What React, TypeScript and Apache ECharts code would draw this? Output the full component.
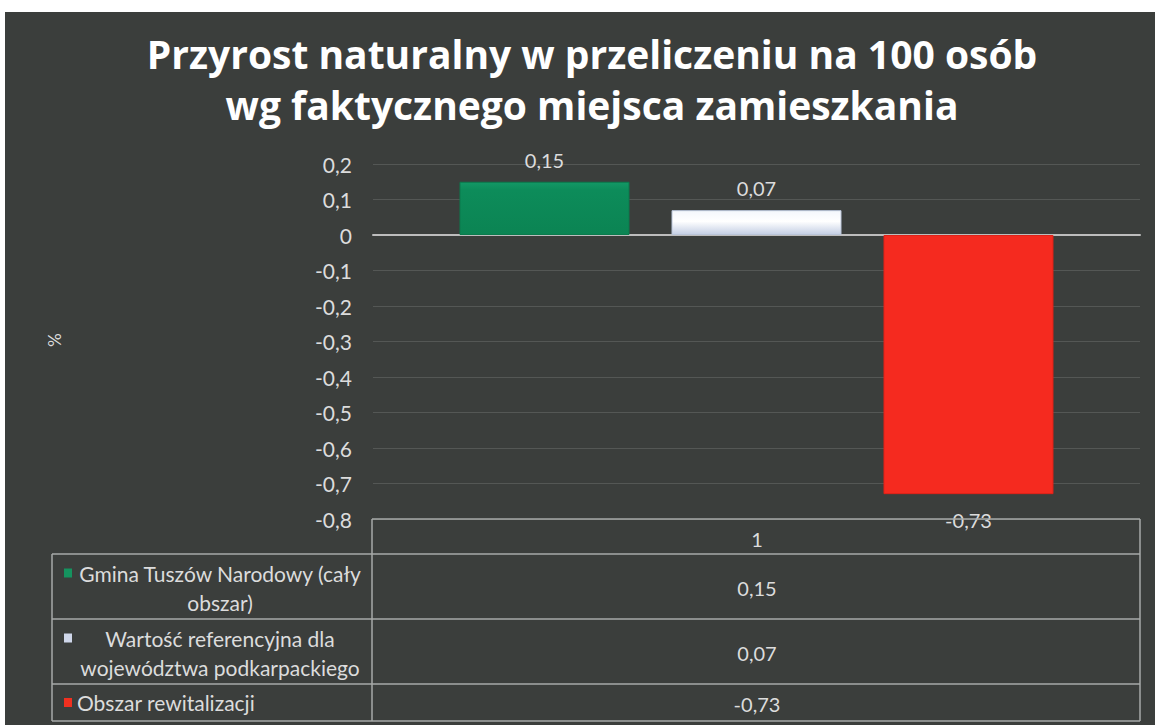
import React, { useEffect, useRef } from 'react';
import * as echarts from 'echarts';

const titleLines = ['Przyrost naturalny w przeliczeniu na 100 osób', 'wg faktycznego miejsca zamieszkania'];
const categories = ['1'];
const seriesNames = [
  'Gmina Tuszów Narodowy (cały obszar)',
  'Wartość referencyjna dla województwa podkarpackiego',
  'Obszar rewitalizacji',
];
const seriesLabelLines = [
  ['Gmina Tuszów Narodowy (cały', 'obszar)'],
  ['Wartość referencyjna dla', 'województwa podkarpackiego'],
  ['Obszar rewitalizacji'],
];
const seriesValues = [0.15, 0.07, -0.73];
const yMin = -0.8;
const yMax = 0.2;
const yStep = 0.1;
const axisName = '%';

const FONT = 'Lato, "Noto Sans", sans-serif';
const TITLE_FONT = '"Open Sans", Lato, sans-serif';
const TEXT = '#dcdcdc';
const LINE = '#a7aaa9';

const fmt = (v: number) => {
  const r = Math.round(v * 100) / 100;
  return String(r).replace('.', ',');
};

const barColors: any[] = [
  new echarts.graphic.LinearGradient(0, 0, 0, 1, [
    { offset: 0, color: '#139866' },
    { offset: 0.15, color: '#0d8c5a' },
    { offset: 1, color: '#0b8453' },
  ]),
  new echarts.graphic.LinearGradient(0, 0, 0, 1, [
    { offset: 0, color: '#f4f7fc' },
    { offset: 0.45, color: '#ffffff' },
    { offset: 1, color: '#c3cee4' },
  ]),
  '#f52a1f',
];
const keyColors = ['#15935f', '#cfd7ea', '#f03020'];

// table geometry (layout only)
const T = {
  left: 52,
  mid: 372,
  right: 1140,
  catTop: 519,
  rows: [554, 619, 684, 721],
  valueX: 757,
  labelX: 220,
  keyX: 64,
};

export default function App() {
  const ref = useRef<HTMLDivElement>(null);

  useEffect(() => {
    if (!ref.current) return;
    const chart = echarts.init(ref.current, undefined, { renderer: 'svg' });

    const graphics: any[] = [];
    const lineStyle = { stroke: LINE, lineWidth: 1.5 };
    graphics.push({ type: 'line', shape: { x1: T.mid, y1: T.catTop, x2: T.right, y2: T.catTop }, style: lineStyle, z: 10 });
    T.rows.forEach((y) => {
      graphics.push({ type: 'line', shape: { x1: T.left, y1: y, x2: T.right, y2: y }, style: lineStyle, z: 10 });
    });
    graphics.push({ type: 'line', shape: { x1: T.left, y1: T.rows[0], x2: T.left, y2: T.rows[3] }, style: lineStyle, z: 10 });
    graphics.push({ type: 'line', shape: { x1: T.mid, y1: T.catTop, x2: T.mid, y2: T.rows[3] }, style: lineStyle, z: 10 });
    graphics.push({ type: 'line', shape: { x1: T.right, y1: T.catTop, x2: T.right, y2: T.rows[3] }, style: lineStyle, z: 10 });
    graphics.push({
      type: 'text', x: T.valueX, y: (T.catTop + T.rows[0]) / 2 + 2, z: 10,
      style: { text: categories[0], fill: TEXT, font: `20px ${FONT}`, align: 'center', verticalAlign: 'middle' },
    });
    seriesNames.forEach((name, i) => {
      const top = T.rows[i];
      const bot = T.rows[i + 1];
      const cy = (top + bot) / 2;
      const lines = seriesLabelLines[i];
      const lh = 29;
      if (lines.length === 1) {
        graphics.push({ type: 'rect', shape: { x: T.keyX, y: cy - 4.5, width: 8, height: 9 }, style: { fill: keyColors[i] }, z: 10 });
        graphics.push({
          type: 'text', x: T.keyX + 13, y: cy, z: 10,
          style: { text: lines[0], fill: TEXT, font: `21px ${FONT}`, align: 'left', verticalAlign: 'middle' },
        });
      } else {
        const y0 = cy - lh / 2 + 1;
        graphics.push({ type: 'rect', shape: { x: T.keyX, y: y0 - 4.5, width: 8, height: 9 }, style: { fill: keyColors[i] }, z: 10 });
        lines.forEach((ln, k) => {
          graphics.push({
            type: 'text', x: T.labelX, y: y0 + k * lh, z: 10,
            style: { text: ln, fill: TEXT, font: `21px ${FONT}`, align: 'center', verticalAlign: 'middle' },
          });
        });
      }
      graphics.push({
        type: 'text', x: T.valueX, y: cy + 1, z: 10,
        style: { text: fmt(seriesValues[i]), fill: TEXT, font: `20px ${FONT}`, align: 'center', verticalAlign: 'middle' },
      });
    });
    graphics.push({
      type: 'text', x: 54, y: 340, rotation: -Math.PI / 2, z: 10,
      style: { text: axisName, fill: TEXT, font: `17px ${FONT}`, align: 'center', verticalAlign: 'middle' },
    });

    const series = seriesNames.map((name, i) => ({
      name,
      type: 'bar',
      barWidth: 170,
      barGap: '24.7%',
      data: [seriesValues[i]],
      itemStyle: {
        color: barColors[i],
        borderColor: i === 1 ? '#b9c4d8' : i === 0 ? '#0a7a4c' : '#e02218',
        borderWidth: 1,
      },
      label: {
        show: true,
        position: seriesValues[i] < 0 ? 'bottom' : 'top',
        distance: seriesValues[i] < 0 ? 16 : 12,
        formatter: (p: any) => fmt(p.value),
        color: TEXT,
        fontSize: 20,
        fontFamily: FONT,
      },
    }));

    chart.setOption({
      animation: false,
      backgroundColor: 'transparent',
      title: {
        text: titleLines.join('\n'),
        left: 587,
        top: 23,
        textAlign: 'center',
        textStyle: { color: '#ffffff', fontSize: 39, fontWeight: 'bold', fontFamily: TITLE_FONT, lineHeight: 51 },
      },
      grid: { left: 373, top: 164, width: 767, height: 355, containLabel: false },
      xAxis: {
        type: 'category',
        data: categories,
        axisLine: { show: true, onZero: true, lineStyle: { color: '#bdbdbd', width: 2 } },
        axisTick: { show: false },
        axisLabel: { show: false },
        splitLine: { show: false },
      },
      yAxis: {
        type: 'value',
        min: yMin,
        max: yMax,
        interval: yStep,
        axisLine: { show: false },
        axisTick: { show: false },
        axisLabel: {
          color: TEXT,
          fontSize: 21,
          fontFamily: FONT,
          margin: 21,
          formatter: (v: number) => fmt(v),
        },
        splitLine: { show: true, lineStyle: { color: 'rgba(255,255,255,0.13)', width: 1 } },
      },
      series,
      graphic: graphics,
    });

    return () => chart.dispose();
  }, []);

  return (
    <div style={{ position: 'fixed', left: 0, top: 0, width: 1155, height: 725, background: '#ffffff' }}>
      <div style={{ position: 'absolute', left: 5, top: 12, width: 1150, height: 713, background: '#3b3e3c' }} />
      <div ref={ref} style={{ position: 'absolute', left: 0, top: 0, width: 1155, height: 725 }} />
    </div>
  );
}
